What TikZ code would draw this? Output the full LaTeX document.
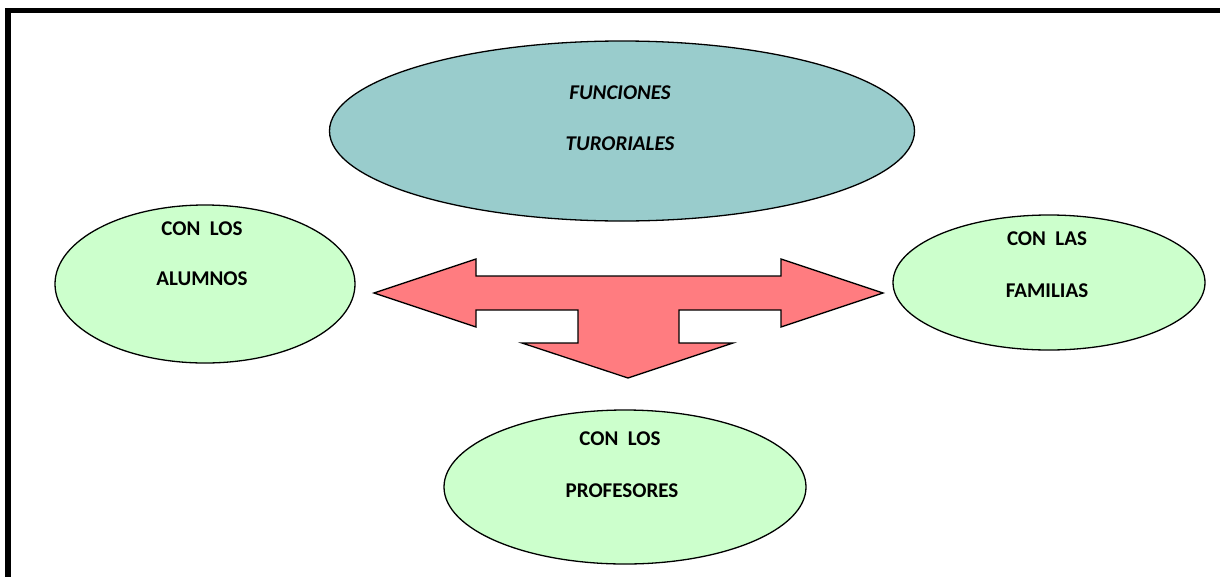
\documentclass[tikz,border=0pt]{standalone}
\usepackage{fontspec}
\setmainfont{Carlito}
\usetikzlibrary{shapes.geometric}
\definecolor{teal1}{HTML}{99CCCC}
\definecolor{mint}{HTML}{CCFFCC}
\definecolor{salmon}{HTML}{FF7C80}
\tikzset{
  ell/.style={ellipse, draw=black, line width=1.3pt, inner sep=0pt},
  lbl/.style={anchor=base, inner sep=0pt, font=\fontsize{21}{21}\selectfont\bfseries},
  ilbl/.style={anchor=base, inner sep=0pt, font=\fontsize{21}{21}\selectfont\bfseries\itshape},
  arrowshape/.style={fill=salmon, draw=black, line width=1.3pt, line join=miter}
}
\begin{document}
\begin{tikzpicture}[x=1pt,y=-1pt]
\useasboundingbox (0,0) rectangle (1220,576);
\fill[white] (0,0) rectangle (1220,576);
\draw[line width=5.5pt] (1230,10.5) -- (8,10.5) -- (8,590);
% ellipses
\node[ell, fill=teal1, minimum width=585pt, minimum height=180pt] (top) at (622,131) {};
\node[ell, fill=mint, minimum width=300pt, minimum height=158pt] (left) at (205,284) {};
\node[ell, fill=mint, minimum width=312pt, minimum height=135pt] (right) at (1049,282.5) {};
\node[ell, fill=mint, minimum width=362pt, minimum height=154pt] (bottom) at (625,487) {};
% arrow
\draw[arrowshape] (374,293) -- (476,259) -- (476,276) -- (781,276) -- (781,259) -- (883,293)
  -- (781,327) -- (781,310) -- (679,310) -- (679,343) -- (733,343) -- (628,378)
  -- (522,343) -- (578,343) -- (578,310) -- (476,310) -- (476,327) -- cycle;
% labels
\node[ilbl] (t1) at (620,99) {FUNCIONES};
\node[ilbl] (t2) at (620,150) {TURORIALES};
\node[lbl] (l1) at (202,235) {CON\ \ LOS};
\node[lbl] (l2) at (202,285) {ALUMNOS};
\node[lbl] (r1) at (1047,245) {CON\ \ LAS};
\node[lbl] (r2) at (1047,297) {FAMILIAS};
\node[lbl] (b1) at (620,445) {CON\ \ LOS};
\node[lbl] (b2) at (622,497) {PROFESORES};
\end{tikzpicture}
\end{document}
